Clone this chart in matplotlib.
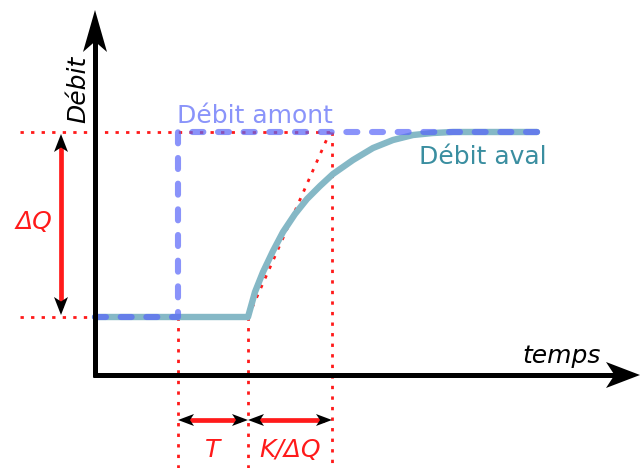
import matplotlib.pyplot as plt
import numpy as np

# Diagram data (pixel-like coordinates, y pointing down)
q_low = 317
q_high = 132
t_start = 95
t_step = 178          # upstream step time
t_delay = 248         # start of downstream response (T)
t_tangent = 332       # end of tangent (K/dQ)
t_end = 537

amont_x = [t_start, t_step, t_step, t_end]
amont_y = [q_low, q_low, q_high, q_high]

aval_x = [95, 248, 255, 263, 273, 283, 295, 307, 320, 333, 353, 373, 393,
          413, 433, 453, 537]
aval_y = [317, 317, 292, 272, 251, 232, 214, 199, 186, 174, 160, 148, 140,
          135, 133, 132, 132]

red = '#ff1a1a'


def arrow_head(ax, tip, direction, length, half_width, color, notch=0.25):
    d = np.array(direction, float)
    d /= np.hypot(*d)
    n = np.array([-d[1], d[0]])
    tip = np.array(tip, float)
    base = tip - d * length
    pts = [tip, base + n * half_width, tip - d * length * (1 - notch),
           base - n * half_width]
    ax.add_patch(plt.Polygon(pts, closed=True, color=color, lw=0, zorder=6))


fig = plt.figure(figsize=(6.4, 4.68), dpi=100)
ax = fig.add_axes([0, 0, 1, 1])
ax.set_xlim(0, 640)
ax.set_ylim(468, 0)
ax.axis('off')

dot = dict(color=red, lw=2, linestyle=(0, (1.2, 2.6)), zorder=2)

# red dotted guides
ax.plot([20, t_tangent], [q_high, q_high], **dot)
ax.plot([20, t_delay], [q_low, q_low], **dot)
ax.plot([t_step, t_step], [q_low, 468], **dot)
ax.plot([t_delay, t_delay], [q_low, 468], **dot)
ax.plot([t_tangent, t_tangent], [q_high, 468], **dot)
ax.plot([t_delay, t_tangent - 2], [q_low, q_high], **dot)

# axes
ax.plot([95, 95], [377, 40], color='black', lw=3.6, solid_capstyle='butt', zorder=5)
ax.plot([93, 615], [375, 375], color='black', lw=3.6, solid_capstyle='butt', zorder=5)
arrow_head(ax, (95, 10), (0, -1), 42, 12, 'black')
arrow_head(ax, (640, 375), (1, 0), 34, 13, 'black')

# curves
ax.plot(aval_x, aval_y, color='#85b8c6', lw=4.6, solid_capstyle='round',
        solid_joinstyle='round', zorder=3)
ax.plot(amont_x, amont_y, color='#5866f8', alpha=0.7, lw=4.4,
        linestyle=(0, (1.8, 2.4)), dash_capstyle='round', zorder=4)

# delta Q arrow
ax.plot([61, 61], [q_high + 12, q_low - 12], color=red, lw=3.4, zorder=5)
arrow_head(ax, (61, q_high + 2), (0, -1), 18, 7, 'black')
arrow_head(ax, (61, q_low - 2), (0, 1), 18, 7, 'black')

# T and K/dQ arrows
ya = 420
ax.plot([t_step + 10, t_delay - 10], [ya, ya], color=red, lw=3.4, zorder=5)
ax.plot([t_delay + 10, t_tangent - 10], [ya, ya], color=red, lw=3.4, zorder=5)
arrow_head(ax, (t_step, ya), (-1, 0), 16, 6, 'black')
arrow_head(ax, (t_delay, ya), (1, 0), 16, 6, 'black')
arrow_head(ax, (t_delay, ya), (-1, 0), 16, 6, 'black')
arrow_head(ax, (t_tangent, ya), (1, 0), 16, 6, 'black')

# texts
fs = 18
ax.text(78, 89, 'Débit', rotation=90, style='italic', fontsize=fs,
        ha='center', va='center', color='black')
ax.text(562, 356, 'temps', style='italic', fontsize=fs,
        ha='center', va='center', color='black')
ax.text(255, 116, 'Débit amont', fontsize=fs, ha='center', va='center',
        color='#8a94fa')
ax.text(483, 157, 'Débit aval', fontsize=fs, ha='center', va='center',
        color='#3a8ea0')
ax.text(34, 222, 'ΔQ', style='italic', fontsize=fs, ha='center', va='center',
        color=red)
ax.text(213, 450, 'T', style='italic', fontsize=fs, ha='center', va='center',
        color=red)
ax.text(290, 450, 'K/ΔQ', style='italic', fontsize=fs, ha='center', va='center',
        color=red)

fig.savefig('out.png', dpi=100)
